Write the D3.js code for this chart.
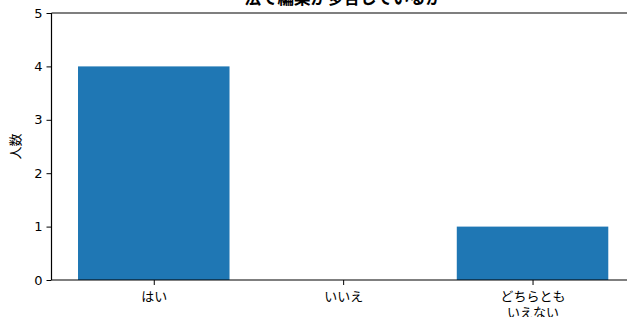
<!DOCTYPE html>
<html><head><meta charset="utf-8">
<script src="https://cdn.jsdelivr.net/npm/d3@7"></script>
<style>body{margin:0;background:#fff}svg{display:block}</style>
</head><body>
<script>
const categories = ["はい", "いいえ", "どちらとも\nいえない"];
const values = [4, 0, 1];
const yTicks = [0, 1, 2, 3, 4, 5];
const title = "法で編集が多合しているか";
const yLabel = "人数";

(function() {
const W = 627, H = 317;
const svg = d3.select("body").append("svg").attr("width", W).attr("height", H);
const mL = 51.5, mR = 634.8, mT = 13, mB = 280;
const x = d3.scaleLinear().domain([-0.54, 2.54]).range([mL, mR]);
const y = d3.scaleLinear().domain([0, 5]).range([mB, mT]);
const font = "'DejaVu Sans','Noto Sans CJK JP',sans-serif";

svg.append("g").selectAll("rect").data(values).join("rect")
  .attr("x", (d, i) => x(i - 0.4)).attr("width", (d, i) => x(i + 0.4) - x(i - 0.4))
  .attr("y", d => y(d)).attr("height", d => y(0) - y(d)).attr("fill", "#1f77b4");

const yAxis = svg.append("g").attr("transform", `translate(${mL},0)`)
  .call(d3.axisLeft(y).tickValues(yTicks).tickSize(5).tickPadding(4).tickFormat(d3.format("d")));
yAxis.select(".domain").remove();
yAxis.selectAll("text").attr("font-family", font).attr("font-size", 13).attr("fill", "#000");
yAxis.selectAll("line").attr("stroke", "#000");

const xAxis = svg.append("g").attr("transform", `translate(0,${mB})`)
  .call(d3.axisBottom(x).tickValues([0, 1, 2]).tickSize(5).tickFormat(""));
xAxis.select(".domain").remove();
xAxis.selectAll("line").attr("stroke", "#000");
xAxis.selectAll(".tick").each(function(d) {
  const lines = categories[d].split("\n");
  const t = d3.select(this).append("text").attr("fill", "#000").attr("font-family", font)
    .attr("font-size", 13).attr("text-anchor", "middle");
  lines.forEach((l, k) => t.append("tspan").attr("x", 0).attr("y", 21 + k * 15.5).text(l));
});

const spine = (x1, y1, x2, y2) => svg.append("line").attr("x1", x1).attr("y1", y1).attr("x2", x2).attr("y2", y2)
  .attr("stroke", "#000").attr("stroke-width", 1.2);
spine(mL, mT, mL, mB); spine(mL, mB, mR, mB); spine(mL, mT, mR, mT); spine(mR, mT, mR, mB);

svg.append("text").attr("x", (mL + mR) / 2).attr("y", 4).attr("text-anchor", "middle")
  .attr("font-family", font).attr("font-weight", "bold").attr("font-size", 16.5).attr("fill", "#000").text(title);

svg.append("text").attr("transform", `translate(20,${(mT + mB) / 2}) rotate(-90)`)
  .attr("text-anchor", "middle").attr("font-family", font).attr("font-size", 13).attr("fill", "#000").text(yLabel);
})();
</script>
</body></html>
